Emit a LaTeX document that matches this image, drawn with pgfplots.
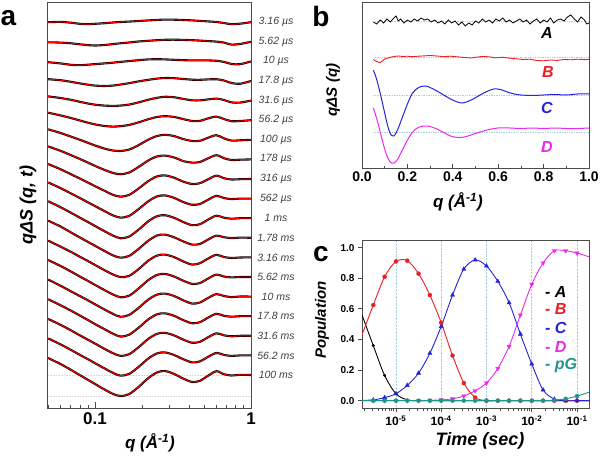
\documentclass[border=0pt]{standalone}
\usepackage{fontspec}
\setmainfont{Liberation Sans}
\usepackage{pgfplots}
\pgfplotsset{compat=1.18}
\usepackage{pgfplotstable}
\definecolor{cred}{RGB}{235,30,35}
\definecolor{cblue}{RGB}{35,35,220}
\definecolor{cmag}{RGB}{235,40,235}
\definecolor{cteal}{RGB}{30,150,140}
\definecolor{gridc}{RGB}{165,210,222}
\newcommand\fs[1]{\fontsize{#1}{#1}\selectfont}

\pgfplotstableread{
q c0 c1 c2 c3 c4 c5 c6 c7 c8 c9 c10 c11 c12 c13 c14 c15 c16 c17 c18
0.05 0 -0.5 -0.8 1.8 4.2 7.5 10.5 13.0 15.0 16.2 17.0 17.2 16.8 17.0 17.1 17.0 16.9 17.0 17.0
0.06 0.3 -0.8 -2.0 0.8 2.6 4.8 6.8 8.6 9.8 10.5 11.0 11.3 10.8 11.1 10.9 11.0 11.0 11.1 11.0
0.07 -0.5 -1.5 -3.4 -0.8 0.8 2.2 3.2 4.3 4.8 5.2 5.5 5.4 5.6 5.5 5.3 5.6 5.5 5.5 5.2
0.08 -1.6 -2.5 -3.8 -2.4 -1.2 -0.3 0.0 0.4 0.4 0.5 0.5 0.3 0.6 0.4 0.5 0.6 0.4 0.5 -0.2
0.09 -2.0 -3.3 -3.3 -3.7 -2.9 -2.5 -3.0 -3.2 -3.6 -3.7 -3.8 -4.1 -3.6 -3.9 -3.7 -3.8 -3.9 -3.8 -4.8
0.10 -1.6 -3.7 -2.7 -4.6 -4.1 -4.2 -5.7 -6.5 -7.2 -7.5 -7.8 -8.0 -7.6 -7.9 -7.7 -7.9 -7.8 -7.8 -9.0
0.115 -1.0 -3.2 -2.0 -5.0 -5.0 -5.8 -8.8 -10.5 -11.8 -12.5 -13.0 -13.2 -12.8 -13.1 -12.9 -13.0 -13.1 -13.0 -14.5
0.13 -0.3 -2.3 -1.3 -4.6 -5.3 -6.4 -10.7 -13.5 -15.8 -16.7 -17.3 -17.5 -17.0 -17.4 -17.2 -17.4 -17.3 -17.4 -18.8
0.145 0.2 -1.5 -0.5 -3.6 -5.0 -6.0 -11.2 -14.8 -17.6 -19.0 -20.0 -19.8 -19.6 -20.2 -20.1 -20.3 -20.0 -20.2 -21.0
0.165 0.6 -0.7 0.3 -2.2 -4.0 -4.8 -9.8 -13.2 -16.0 -17.4 -18.5 -18.2 -18.6 -18.8 -18.4 -18.6 -18.5 -18.6 -19.2
0.19 1.2 0.3 1.2 -0.4 -1.8 -2.2 -5.4 -7.6 -9.6 -10.6 -11.5 -11.2 -11.8 -11.6 -11.4 -11.6 -11.5 -11.6 -12.0
0.22 1.8 1.0 2.0 1.2 0.9 1.0 0.2 -1.0 -2.0 -2.6 -3.0 -2.8 -3.2 -3.0 -2.9 -3.1 -3.0 -3.0 -3.0
0.25 2.3 1.6 2.2 2.4 2.8 3.2 3.8 3.0 2.6 2.2 2.0 2.3 1.8 2.1 2.0 1.9 2.0 2.0 2.6
0.28 2.6 2.0 2.0 3.0 3.8 4.0 5.0 3.8 3.6 3.2 3.0 3.2 2.8 3.1 3.0 2.9 3.0 3.0 4.0
0.32 2.5 2.1 1.6 2.8 3.4 3.3 3.8 2.0 1.4 0.8 0.5 0.6 0.4 0.6 0.7 0.5 0.5 0.5 1.2
0.37 2.2 1.9 1.2 2.0 1.6 1.0 0.6 -1.8 -2.8 -3.6 -4.0 -3.8 -4.2 -3.9 -3.9 -4.1 -4.0 -4.0 -3.8
0.42 1.8 1.6 1.0 1.3 0.3 -0.8 -1.2 -3.2 -5.0 -6.2 -7.0 -6.8 -7.2 -6.9 -7.0 -7.1 -7.0 -7.0 -7.0
0.47 1.3 1.2 1.0 1.2 0.2 -0.7 -1.0 -2.6 -4.2 -5.4 -6.0 -6.2 -5.8 -6.1 -5.9 -6.0 -6.0 -6.0 -5.8
0.53 0.8 0.7 1.0 1.6 1.2 1.8 2.0 1.0 -0.4 -1.2 -1.5 -1.8 -1.2 -1.6 -1.4 -1.5 -1.5 -1.5 -0.8
0.60 0.2 0.2 0.6 1.8 2.0 3.6 4.6 4.2 3.4 2.8 2.5 2.2 2.6 2.4 2.5 2.4 2.5 2.5 3.8
0.67 -0.8 -0.8 -0.5 0.5 0.6 1.2 1.5 1.2 0.8 0.6 0.5 0.6 0.4 0.5 0.6 0.4 0.5 0.5 0.8
0.75 -2.0 -2.8 -2.6 -2.0 -1.8 -1.0 -0.8 -0.6 -0.5 -0.5 -0.5 -0.3 -0.6 -0.4 -0.5 -0.5 -0.5 -0.5 -0.5
0.85 -1.5 -2.2 -2.8 -2.8 -2.0 -0.8 -0.5 -0.3 -0.2 0.0 0.0 0.2 -0.1 0.0 0.1 0.0 0.0 0.0 0.2
1.0 0 0 0 0 0 0 0 0 0 0 0 0 0 0 0 0 0 0 0
}\tabA

\pgfplotstableread{
q y
0.050 -1
0.065 -3
0.080 1
0.095 -2
0.110 2
0.125 -1
0.140 3
0.150 5
0.160 0
0.170 2
0.185 -2
0.200 1
0.215 -1
0.230 2
0.245 0
0.260 3
0.275 1
0.290 2
0.305 -1
0.320 1
0.335 -2
0.350 0
0.365 -3
0.380 1
0.395 -2
0.410 0
0.425 -4
0.440 -1
0.455 -5
0.470 -2
0.485 -4
0.500 0
0.515 -2
0.530 2
0.545 -1
0.560 1
0.575 -2
0.590 2
0.605 0
0.620 3
0.635 -1
0.650 1
0.665 -2
0.680 0
0.695 2
0.710 -1
0.725 1
0.740 -3
0.755 0
0.770 2
0.785 -2
0.800 1
0.815 -1
0.830 3
0.845 -2
0.860 1
0.875 2
0.890 0
0.905 4
0.920 6
0.935 2
0.950 -1
0.965 4
0.980 1
0.990 -3
1.000 -2
}\bA

\pgfplotstableread{
q y
0.05 -2.5
0.06 -4
0.07 -5
0.08 -5.5
0.09 -4
0.10 -2
0.12 -0.5
0.14 0.5
0.16 1
0.18 0.5
0.20 0.8
0.22 0.3
0.25 0.8
0.28 1.2
0.30 1.5
0.33 1
0.36 0.4
0.39 0.8
0.42 0.2
0.45 -0.5
0.48 -1
0.50 -0.3
0.53 0.6
0.56 0.2
0.59 -0.8
0.62 -0.3
0.65 -1.2
0.68 -1.8
0.71 -2.5
0.74 -2.2
0.77 -3.5
0.80 -3.8
0.83 -3
0.86 -3.4
0.89 -2.5
0.92 -2.8
0.95 -2.2
0.98 -2.6
1.00 -2.4
}\bB

\pgfplotstableread{
q y
0.05 25
0.06 19
0.07 11
0.08 2
0.09 -8
0.10 -18
0.11 -28
0.12 -36
0.13 -40.5
0.14 -41
0.15 -38
0.16 -33
0.18 -21
0.20 -9
0.22 1
0.24 6
0.26 8.5
0.28 9
0.30 7.5
0.33 4
0.36 0
0.39 -4
0.42 -7
0.44 -8
0.46 -7
0.49 -4
0.52 0
0.55 3.5
0.58 6
0.61 5.5
0.64 3
0.67 1
0.70 0
0.75 -0.5
0.80 0
0.85 0.5
0.90 0
0.95 1
1.00 1
}\bC

\pgfplotstableread{
q y
0.05 24
0.06 17
0.07 9
0.08 0
0.09 -9
0.10 -17
0.11 -24
0.12 -28.5
0.13 -31
0.14 -31
0.15 -29.5
0.16 -26
0.18 -17
0.20 -8
0.22 -1
0.24 3.5
0.26 5.5
0.28 6
0.30 5.5
0.33 3
0.36 -0.5
0.39 -4
0.42 -5.5
0.45 -5
0.48 -3
0.52 0
0.56 2.5
0.60 4
0.65 4
0.70 3.5
0.75 4
0.80 3.5
0.85 4
0.90 3.5
0.95 3.5
1.00 4
}\bD

\pgfplotstableread{
t A B C D pG
1.78e-6 0.56 0.43 0.002 0 0
3.16e-6 0.36 0.625 0.005 0 0
5.62e-6 0.165 0.81 0.02 0 0
1e-5 0.045 0.91 0.045 0 0
1.78e-5 0.005 0.915 0.10 0 0
3.16e-5 0 0.83 0.18 0 0
5.62e-5 0 0.69 0.31 0.002 0
1e-4 0 0.51 0.485 0.005 0
1.78e-4 0 0.295 0.69 0.012 0
3.16e-4 0 0.115 0.86 0.03 0
5.62e-4 0 0.02 0.92 0.065 0
1e-3 0 0 0.88 0.115 0
1.78e-3 0 0 0.78 0.21 0
3.16e-3 0 0 0.64 0.355 0
5.62e-3 0 0 0.435 0.56 0
1e-2 0 0 0.24 0.76 0
1.78e-2 0 0 0.07 0.90 0
3.16e-2 0 0 0.01 0.98 0.003
5.62e-2 0 0 0 0.98 0.012
1e-1 0 0 0 0.965 0.03
1.84e-1 0 0 0 0.94 0.055
}\tabC

\begin{document}
\begin{tikzpicture}[x=1pt,y=1pt]
\path[use as bounding box] (0,0) rectangle (600,459);

% ---------------- panel a
\begin{axis}[at={(47pt,51pt)}, anchor=south west, scale only axis,
  width=204pt, height=406pt, xmode=log, log basis x=10,
  xmin=0.0492, xmax=1, ymin=0, ymax=406, ytick=\empty,
  xtick={0.1,1}, xticklabels={0.1,1},
  minor xtick={0.05,0.06,0.07,0.08,0.09,0.2,0.3,0.4,0.5,0.6,0.7,0.8,0.9},
  tick align=inside, xtick pos=bottom,
  major tick length=6pt, minor tick length=3.5pt,
  axis line style={black!70, line width=0.9pt},
  every tick/.style={black!70, line width=0.8pt},
  xticklabel style={font=\fs{17}\bfseries, yshift=-1pt},
  clip=false]
\addplot[gray!30, densely dotted, line width=0.6pt] coordinates {(0.05,33) (1,33)};
\addplot[gray!30, densely dotted, line width=0.6pt] coordinates {(0.05,12) (1,12)};
\pgfplotsinvokeforeach{0,...,18}{
  \addplot[black, line width=2.1pt, smooth] table[x=q, y expr={\thisrow{c#1}+33+19.6*(18-#1)}] {\tabA};
  \addplot[red, line width=0.95pt, smooth] table[x=q, y expr={\thisrow{c#1}+33+19.6*(18-#1)}] {\tabA};
}
\tikzset{tl/.style={font=\fs{10.5}\itshape, text=black!75, xshift=25pt}}
\node[tl] at (axis cs:1,385.8) {3.16 µs};
\node[tl] at (axis cs:1,366.2) {5.62 µs};
\node[tl] at (axis cs:1,346.6) {10 µs};
\node[tl] at (axis cs:1,327.0) {17.8 µs};
\node[tl] at (axis cs:1,307.4) {31.6 µs};
\node[tl] at (axis cs:1,287.8) {56.2 µs};
\node[tl] at (axis cs:1,268.2) {100 µs};
\node[tl] at (axis cs:1,248.6) {178 µs};
\node[tl] at (axis cs:1,229.0) {316 µs};
\node[tl] at (axis cs:1,209.4) {562 µs};
\node[tl] at (axis cs:1,189.8) {1 ms};
\node[tl] at (axis cs:1,170.2) {1.78 ms};
\node[tl] at (axis cs:1,150.6) {3.16 ms};
\node[tl] at (axis cs:1,131.0) {5.62 ms};
\node[tl] at (axis cs:1,111.4) {10 ms};
\node[tl] at (axis cs:1,91.8) {17.8 ms};
\node[tl] at (axis cs:1,72.2) {31.6 ms};
\node[tl] at (axis cs:1,52.6) {56.2 ms};
\node[tl] at (axis cs:1,33.0) {100 ms};
\end{axis}

% ---------------- panel b
\begin{axis}[at={(362pt,291pt)}, anchor=south west, scale only axis,
  width=227pt, height=166pt,
  xmin=0, xmax=1, ymin=0, ymax=166, ytick=\empty,
  xtick={0,0.2,0.4,0.6,0.8,1}, minor x tick num=1,
  tick align=inside, xtick pos=bottom,
  major tick length=4pt, minor tick length=2.5pt,
  axis line style={black!70, line width=0.9pt},
  every tick/.style={black!70, line width=0.8pt},
  xticklabel style={font=\fs{14}\bfseries, /pgf/number format/fixed, /pgf/number format/fixed zerofill, /pgf/number format/precision=1},
  /pgf/number format/assume math mode=true]
\addplot[gridc, densely dotted, line width=0.7pt] coordinates {(0.05,147) (1,147)};
\addplot[gridc, densely dotted, line width=0.7pt] coordinates {(0.05,111) (1,111)};
\addplot[gridc, densely dotted, line width=0.7pt] coordinates {(0.05,73) (1,73)};
\addplot[gridc, densely dotted, line width=0.7pt] coordinates {(0.05,36) (1,36)};
\addplot[black, line width=0.8pt] table[x=q, y expr={\thisrow{y}+147}] {\bA};
\addplot[cred, line width=0.9pt] table[x=q, y expr={\thisrow{y}+111}] {\bB};
\addplot[cblue, line width=1pt, smooth] table[x=q, y expr={\thisrow{y}+73}] {\bC};
\addplot[cmag, line width=1pt, smooth] table[x=q, y expr={\thisrow{y}+36}] {\bD};
\end{axis}

% ---------------- panel c
\begin{axis}[at={(362pt,51pt)}, anchor=south west, scale only axis,
  width=227pt, height=168pt, xmode=log, log basis x=10,
  xmin=1.78e-6, xmax=0.184, ymin=-0.048, ymax=1.05,
  xtick={1e-5,1e-4,1e-3,1e-2,1e-1},
  xticklabels={10\textsuperscript{-5},10\textsuperscript{-4},10\textsuperscript{-3},10\textsuperscript{-2},10\textsuperscript{-1}},
  minor xtick={2e-6,3e-6,4e-6,5e-6,6e-6,7e-6,8e-6,9e-6,2e-5,3e-5,4e-5,5e-5,6e-5,7e-5,8e-5,9e-5,2e-4,3e-4,4e-4,5e-4,6e-4,7e-4,8e-4,9e-4,2e-3,3e-3,4e-3,5e-3,6e-3,7e-3,8e-3,9e-3,2e-2,3e-2,4e-2,5e-2,6e-2,7e-2,8e-2,9e-2},
  ytick={0,0.2,0.4,0.6,0.8,1},
  tick align=outside, xtick pos=bottom, ytick pos=left,
  major tick length=4pt, minor tick length=2.5pt,
  axis line style={black!70, line width=0.9pt},
  every tick/.style={black!70, line width=0.8pt},
  xmajorgrids, major x grid style={gridc, densely dotted, line width=0.6pt},
  xticklabel style={font=\fs{12}\bfseries},
  yticklabel style={font=\fs{10}\bfseries, /pgf/number format/fixed, /pgf/number format/fixed zerofill, /pgf/number format/precision=1},
  /pgf/number format/assume math mode=true]
\addplot[black, line width=0.9pt, smooth] table[x=t, y=A] {\tabC};
\addplot[cred, line width=0.9pt, smooth] table[x=t, y=B] {\tabC};
\addplot[cblue, line width=0.9pt, smooth] table[x=t, y=C] {\tabC};
\addplot[cmag, line width=0.9pt, smooth] table[x=t, y=D] {\tabC};
\addplot[cteal, line width=0.9pt, smooth] table[x=t, y=pG] {\tabC};
\addplot[only marks, mark=*, mark size=1.3pt, black, skip coords between index={0}{1}, skip coords between index={20}{21}] table[x=t, y=A] {\tabC};
\addplot[only marks, mark=*, mark size=2pt, cred, skip coords between index={0}{1}, skip coords between index={20}{21}] table[x=t, y=B] {\tabC};
\addplot[only marks, mark=triangle*, mark size=2.4pt, cblue, skip coords between index={0}{1}, skip coords between index={20}{21}] table[x=t, y=C] {\tabC};
\addplot[only marks, mark=triangle*, mark options={rotate=180}, mark size=2.4pt, cmag, skip coords between index={0}{1}, skip coords between index={20}{21}] table[x=t, y=D] {\tabC};
\addplot[only marks, mark=*, mark size=2pt, cteal, skip coords between index={0}{1}, skip coords between index={20}{21}] table[x=t, y=pG] {\tabC};
\end{axis}

% ---------------- texts
\node[font=\fs{28}\bfseries] at (8.5,441) {a};
\node[font=\fs{28}\bfseries] at (321,443) {b};
\node[font=\fs{28}\bfseries] at (321,205) {c};
\node[font=\fs{18}\bfseries\itshape, rotate=90] at (28,254) {qΔS (q, t)};
\node[font=\fs{17}\bfseries\itshape] at (150,16) {q (Å\textsuperscript{-1})};
\node[font=\fs{15}\bfseries\itshape, rotate=90] at (333,369) {qΔS (q)};
\node[font=\fs{17}\bfseries\itshape] at (458,257) {q (Å\textsuperscript{-1})};
\node[font=\fs{15}\bfseries\itshape, rotate=90] at (322,139) {Population};
\node[font=\fs{18}\bfseries\itshape] at (480,18) {Time (sec)};
\node[font=\fs{16}\bfseries\itshape, text=black] at (547,426) {A};
\node[font=\fs{16}\bfseries\itshape, text=cred] at (548,387) {B};
\node[font=\fs{16}\bfseries\itshape, text=cblue] at (547,351) {C};
\node[font=\fs{16}\bfseries\itshape, text=cmag] at (547,312) {D};
\tikzset{lg/.style={font=\fs{16}\bfseries\itshape, anchor=west, inner sep=0pt}}
\node[lg, text=black] at (545,167) {- A};
\node[lg, text=cred] at (545,150) {- B};
\node[lg, text=cblue] at (545,131) {- C};
\node[lg, text=cmag] at (545,112) {- D};
\node[lg, text=cteal] at (545,93) {- pG};
\end{tikzpicture}
\end{document}
